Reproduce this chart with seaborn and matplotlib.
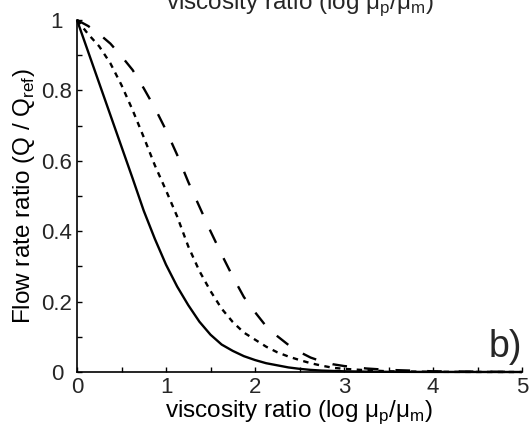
import matplotlib
matplotlib.use("Agg")
import matplotlib.pyplot as plt
import seaborn as sns
import numpy as np
import pandas as pd
from matplotlib.ticker import MultipleLocator, FuncFormatter

# data
x_vals = [0, 0.125, 0.25, 0.375, 0.5, 0.625, 0.75, 0.875, 1.0, 1.125, 1.25, 1.375, 1.5,
          1.625, 1.75, 1.875, 2.0, 2.125, 2.25, 2.375, 2.5, 2.625, 2.75, 2.875, 3.0,
          3.25, 3.5, 4.0, 4.5, 5.0]
q_solid = [1.0, 0.91, 0.82, 0.73, 0.64, 0.55, 0.458, 0.378, 0.305, 0.243, 0.19, 0.143, 0.106,
           0.078, 0.060, 0.045, 0.034, 0.025, 0.019, 0.013, 0.009, 0.006, 0.004, 0.003, 0.002,
           0.001, 0.0005, 0.0002, 0.0001, 0.0]
q_dotted = [1.0, 0.96, 0.925, 0.877, 0.815, 0.744, 0.667, 0.587, 0.516, 0.442, 0.357, 0.287, 0.23,
            0.18, 0.142, 0.112, 0.092, 0.072, 0.056, 0.044, 0.034, 0.025, 0.018, 0.012, 0.009,
            0.005, 0.002, 0.0005, 0.0002, 0.0]
q_dashed = [1.0, 0.983, 0.96, 0.933, 0.897, 0.858, 0.806, 0.75, 0.687, 0.617, 0.54, 0.47, 0.40,
            0.334, 0.271, 0.213, 0.17, 0.13, 0.102, 0.077, 0.057, 0.041, 0.030, 0.022, 0.017,
            0.010, 0.006, 0.002, 0.001, 0.0]

x_ticks = [0, 1, 2, 3, 4, 5]
y_ticks = [0, 0.2, 0.4, 0.6, 0.8, 1.0]
x_label = "viscosity ratio (log μ$_\\mathregular{p}$/μ$_\\mathregular{m}$)"
y_label = "Flow rate ratio (Q / Q$_\\mathregular{ref}$)"
panel_label = "b)"

sns.set_theme(style="white")
plt.rcParams["font.family"] = ["Liberation Sans", "DejaVu Sans"]
plt.rcParams["mathtext.fontset"] = "custom"
plt.rcParams["mathtext.rm"] = "Liberation Sans"

fig = plt.figure(figsize=(5.31, 4.25), dpi=100)
ax = fig.add_axes([77 / 531, 53 / 425, 445 / 531, 352 / 425])

df = pd.DataFrame({"x": x_vals, "solid": q_solid, "dotted": q_dotted, "dashed": q_dashed})
lw = 1.7
sns.lineplot(data=df, x="x", y="solid", ax=ax, color="black", lw=lw)
sns.lineplot(data=df, x="x", y="dotted", ax=ax, color="black", lw=lw)
sns.lineplot(data=df, x="x", y="dashed", ax=ax, color="black", lw=lw)
lines = ax.get_lines()
lines[1].set_dashes([2.3, 2.3])
lines[2].set_dashes([6.2, 7.2])
for ln in lines:
    ln.set_clip_on(False)
    ln.set_solid_capstyle("butt")
    ln.set_dash_capstyle("butt")
    ln.set_solid_joinstyle("round")

ax.set_xlim(0, 5)
ax.set_ylim(0, 1)
ax.set_xticks(x_ticks)
ax.set_yticks(y_ticks)
ax.xaxis.set_minor_locator(MultipleLocator(0.5))
ax.yaxis.set_minor_locator(MultipleLocator(0.1))
ax.yaxis.set_major_formatter(FuncFormatter(lambda v, p: f"{v:g}"))
ax.tick_params(which="both", direction="in", length=3.5, width=1, color="black",
               bottom=True, left=True, top=False, right=False, labelsize=16, pad=3)
ax.tick_params(axis="x", pad=3.5)
ax.tick_params(axis="y", pad=14.4)
for lbl in ax.get_yticklabels():
    lbl.set_horizontalalignment("center")
for s in ["top", "right"]:
    ax.spines[s].set_visible(False)
for s in ["left", "bottom"]:
    ax.spines[s].set_color("black")
    ax.spines[s].set_linewidth(1.2)

ax.set_xlabel(x_label, fontsize=17.5, labelpad=0, color="black")
ax.set_ylabel(y_label, fontsize=17.5, labelpad=3, color="black")
ax.text(1.0, 0.043, panel_label, transform=ax.transAxes, fontsize=27, ha="right", va="baseline")
fig.text(0.565, 1 - 9 / 425, x_label, fontsize=17.5, ha="center", va="baseline")

fig.savefig("out.png", dpi=100)
